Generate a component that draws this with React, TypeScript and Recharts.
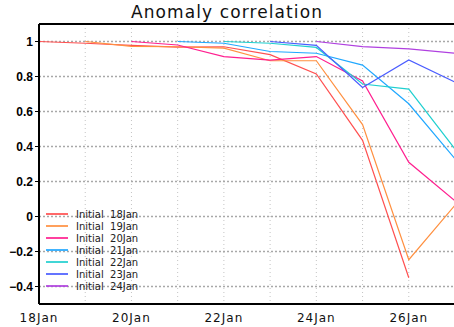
import { LineChart, Line, XAxis, YAxis, CartesianGrid, Legend, ReferenceLine } from 'recharts';

const days = [18, 19, 20, 21, 22, 23, 24, 25, 26, 27];
const xTicks = [18, 19, 20, 21, 22, 23, 24, 25, 26, 27];
const yTicks = [-0.4, -0.2, 0, 0.2, 0.4, 0.6, 0.8, 1];

const init18 = [1.0, 0.99, 0.978, 0.968, 0.97, 0.925, 0.815, 0.435, -0.35, null];
const init19 = [null, 1.0, 0.972, 0.97, 0.962, 0.89, 0.89, 0.525, -0.247, 0.065];
const init20 = [null, null, 1.0, 0.98, 0.914, 0.894, 0.914, 0.775, 0.31, 0.09];
const init21 = [null, null, null, 1.0, 0.99, 0.943, 0.933, 0.865, 0.644, 0.33];
const init22 = [null, null, null, null, 1.0, 0.99, 0.966, 0.757, 0.728, 0.385];
const init23 = [null, null, null, null, null, 1.0, 0.978, 0.737, 0.895, 0.768];
const init24 = [null, null, null, null, null, null, 1.0, 0.971, 0.958, 0.933];

const series = [
  { key: 'i18', name: 'Initial  18Jan', values: init18, color: '#ff5050' },
  { key: 'i19', name: 'Initial  19Jan', values: init19, color: '#ff9040' },
  { key: 'i20', name: 'Initial  20Jan', values: init20, color: '#ff1f8f' },
  { key: 'i21', name: 'Initial  21Jan', values: init21, color: '#20a8ff' },
  { key: 'i22', name: 'Initial  22Jan', values: init22, color: '#20d0d0' },
  { key: 'i23', name: 'Initial  23Jan', values: init23, color: '#4a5cff' },
  { key: 'i24', name: 'Initial  24Jan', values: init24, color: '#b040e0' },
];

const data = days.map((d, i) => {
  const row: any = { day: d };
  series.forEach((s) => {
    row[s.key] = s.values[i];
  });
  return row;
});

const fmtY = (v: number) => {
  if (v === 0) return '0';
  if (v === 1) return '1';
  const s = Math.abs(v).toFixed(1);
  return v < 0 ? '\u2212' + s : s;
};

// only even days get a label, odd days just keep their grid line
const fmtX = (v: number) => (v % 2 === 0 ? `${v}Jan` : '');

function LegendBox() {
  return (
    <div style={{ fontFamily: '"DejaVu Sans", sans-serif', fontSize: 10, color: '#222' }}>
      {series.map((s) => (
        <div key={s.key} style={{ display: 'flex', alignItems: 'center', height: 12, whiteSpace: 'pre' }}>
          <svg width={22} height={12} style={{ marginRight: 8 }}>
            <line x1={0} x2={22} y1={6} y2={6} stroke={s.color} strokeWidth={2} opacity={0.85} />
          </svg>
          <span>{s.name}</span>
        </div>
      ))}
    </div>
  );
}

export default function App() {
  return (
    <div style={{ position: 'absolute', left: 0, top: 0, width: 454, height: 327, overflow: 'hidden', background: '#fff' }}>
      <div
        style={{
          position: 'absolute',
          left: 0,
          width: 454,
          top: 2,
          textAlign: 'center',
          fontFamily: '"DejaVu Sans", sans-serif',
          fontSize: 17,
          letterSpacing: 1.1,
          color: '#111',
        }}
      >
        Anomaly correlation
      </div>
      <LineChart width={460} height={327} data={data} margin={{ top: 24, right: 5, bottom: 0, left: 0 }}>
        <CartesianGrid horizontal={false} stroke="#c4c4c4" strokeDasharray="1 3" />
        <CartesianGrid vertical={false} stroke="#a8a8a8" strokeWidth={1.5} strokeDasharray="2 2" />
        <XAxis
          type="number"
          dataKey="day"
          domain={[18, 27]}
          ticks={xTicks}
          tickFormatter={fmtX}
          tickLine={false}
          axisLine={{ stroke: '#000', strokeWidth: 2 }}
          height={23}
          tick={{ fill: '#111', fontSize: 12, fontFamily: '"DejaVu Sans", sans-serif', letterSpacing: 1 }}
          tickMargin={3}
          interval={0}
        />
        <YAxis
          type="number"
          domain={[-0.5, 1.1]}
          ticks={yTicks}
          tickFormatter={fmtY}
          width={39}
          allowDataOverflow
          axisLine={{ stroke: '#000', strokeWidth: 2 }}
          tickLine={{ stroke: '#000' }}
          tickSize={4}
          tick={{ fill: '#000', fontSize: 12, fontWeight: 'bold', fontFamily: '"Liberation Sans", Arial, sans-serif' }}
        />
        <ReferenceLine y={1.1} stroke="#000" strokeWidth={2} />
        {series.map((s) => (
          <Line
            key={s.key}
            dataKey={s.key}
            name={s.name}
            stroke={s.color}
            strokeWidth={1.2}
            dot={false}
            isAnimationActive={false}
          />
        ))}
        <Legend
          layout="vertical"
          align="center"
          verticalAlign="middle"
          wrapperStyle={{ left: 46, top: 208, width: 120 }}
          content={() => <LegendBox />}
        />
      </LineChart>
    </div>
  );
}
